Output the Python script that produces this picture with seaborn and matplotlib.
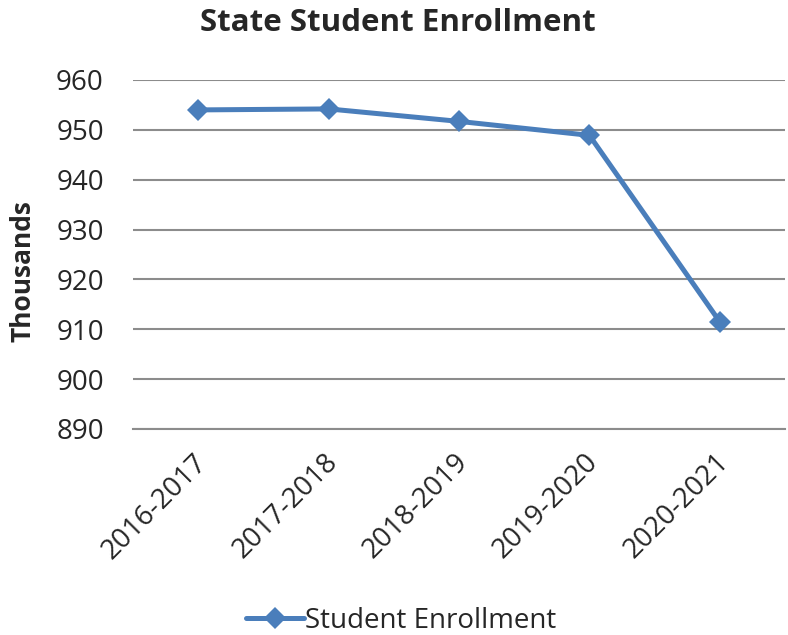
import matplotlib
matplotlib.use("Agg")
import matplotlib.pyplot as plt
import matplotlib.transforms as mtransforms
import seaborn as sns
import pandas as pd

# Enrollment by school year, in thousands of students
school_years = ["2016-2017", "2017-2018", "2018-2019", "2019-2020", "2020-2021"]
enrollment = [954.0, 954.2, 951.7, 948.9, 911.5]
y_ticks = [890, 900, 910, 920, 930, 940, 950, 960]

df = pd.DataFrame({"Year": school_years, "Student Enrollment": enrollment})

sns.set_style("white")
plt.rcParams["font.family"] = ["Open Sans", "DejaVu Sans"]

line_color = "#4A7EBB"
grid_color = "#8C8C8C"

W, H = 788, 635
fig = plt.figure(figsize=(W / 100, H / 100), dpi=100)
ax = fig.add_axes([133 / W, 1 - 429 / H, 652 / W, 349 / H])

sns.lineplot(data=df, x="Year", y="Student Enrollment", ax=ax, sort=False,
             color=line_color, linewidth=3.6, marker="D", markersize=11.5,
             markeredgewidth=0, label="Student Enrollment", legend=False)

ax.set_xlim(-0.5, len(school_years) - 0.5)
ax.set_ylim(y_ticks[0], y_ticks[-1])
ax.set_yticks(y_ticks)
ax.yaxis.grid(True, color=grid_color, linewidth=1.5)
ax.set_axisbelow(True)
for side in ["left", "right", "top"]:
    ax.spines[side].set_visible(False)
ax.spines["bottom"].set_color(grid_color)
ax.spines["bottom"].set_linewidth(1.5)

ax.tick_params(axis="y", length=0, pad=21, labelsize=20)
ax.tick_params(axis="x", length=0, pad=14, labelsize=20)
# nudge the slanted category labels slightly left so they end under each tick
shift = mtransforms.ScaledTranslation(-5 / 100, 0, fig.dpi_scale_trans)
for lbl in ax.get_xticklabels():
    lbl.set_rotation(45)
    lbl.set_ha("right")
    lbl.set_va("top")
    lbl.set_rotation_mode("anchor")
    lbl.set_transform(lbl.get_transform() + shift)

ax.set_xlabel("")
ax.set_ylabel("")
fig.text(23 / W, 1 - 271 / H, "Thousands", rotation=90, ha="center",
         va="center", fontsize=19, fontweight="bold")

fig.text(398 / W, 1 - 31 / H, "State Student Enrollment", ha="center",
         va="baseline", fontsize=22.5, fontweight="bold")

handles, labels = ax.get_legend_handles_labels()
fig.legend(handles, labels, loc="center", bbox_to_anchor=(401 / W, 1 - 621 / H),
           frameon=False, fontsize=20, handlelength=2.1, handletextpad=0.05,
           borderpad=0)

fig.savefig("out.png", dpi=100)
